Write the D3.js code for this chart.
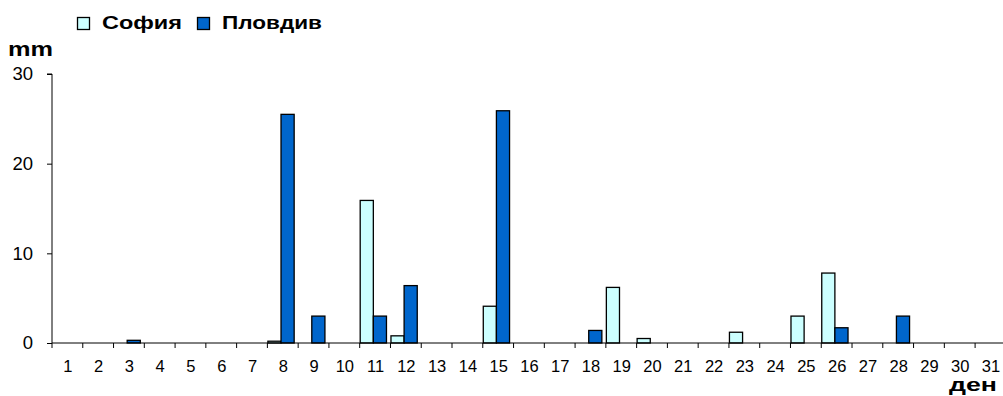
<!DOCTYPE html>
<html>
  <head>
    <meta charset="UTF-8" />
    <title>Валежи</title>
    <style>
      body { margin: 0; background: #fff; }
      svg { display: block; font-family: Arial, "Liberation Sans", sans-serif; }
    </style>
  </head>
  <body>
    <svg></svg>
    <script src="https://d3js.org/d3.v7.min.js"></script>
    <script>
      // days of the month
      var days = d3.range(1, 32).map(String);
      var seriesNames = ["София", "Пловдив"];
      var colours = ["#ccffff", "#0066cc"];
      // precipitation, mm (0 = no bar)
      var sofia = [0, 0, 0, 0, 0, 0, 0, 0.2, 0, 0, 15.9, 0.8, 0, 0, 4.1, 0, 0, 0, 6.2, 0.5, 0, 0, 1.2, 0, 3.0, 7.8, 0, 0, 0, 0, 0];
      var plovdiv = [0, 0, 0.3, 0, 0, 0, 0, 25.5, 3.0, 0, 3.0, 6.4, 0, 0, 25.9, 0, 0, 1.4, 0, 0, 0, 0, 0, 0, 0, 1.7, 0, 3.0, 0, 0, 0];
      var yTicks = [0, 10, 20, 30];

      let width = 1003, height = 396;
      let svg = d3.select("svg").attr("width", width).attr("height", height);

      // plot box (don't name it "top", that's window.top)
      var plotLeft = 52, plotTop = 74, plotBottom = 343;
      var step = 30.77;

      var x = d3.scaleBand().domain(days).range([plotLeft, plotLeft + step * days.length]).padding(0);
      var xs = d3.scaleBand().domain(seriesNames).range([0.5, x.bandwidth() * 0.87]).padding(0);
      var y = d3.scaleLinear().domain([0, 30]).range([plotBottom, plotTop]);

      var rows = days.map(function (d, i) {
        return { day: d, values: [sofia[i], plovdiv[i]] };
      });

      // bars
      var groups = svg.append("g").selectAll("g")
        .data(rows).enter().append("g")
        .attr("transform", function (d) { return "translate(" + x(d.day) + ",0)"; });
      groups.selectAll("rect")
        .data(function (d) {
          return d.values
            .map(function (v, i) { return { name: seriesNames[i], value: v, c: colours[i] }; })
            .filter(function (b) { return b.value > 0; });
        })
        .enter()
        .append("rect")
        .attr("x", function (d) { return xs(d.name); })
        .attr("width", xs.bandwidth())
        .attr("y", function (d) { return y(d.value); })
        .attr("height", function (d) { return y(0) - y(d.value); })
        .attr("fill", function (d) { return d.c; })
        .attr("stroke", "#000")
        .attr("stroke-width", 1.3);

      // y axis
      var yAxis = svg.append("g")
        .attr("transform", "translate(" + plotLeft + ",0)")
        .call(d3.axisLeft(y).tickValues(yTicks).tickSize(5).tickPadding(14));
      yAxis.selectAll("text").attr("font-size", 18.5).attr("fill", "#000")
        .attr("font-family", "Arial, 'Liberation Sans', sans-serif");
      yAxis.selectAll("line, path").attr("stroke", "#000");
      yAxis.select(".domain").attr("d", "M-5," + plotTop + "H0V" + plotBottom);

      // x axis: ticks on category boundaries, labels centred
      var xAxis = svg.append("g").attr("transform", "translate(0," + plotBottom + ")");
      xAxis.append("line").attr("x1", plotLeft).attr("x2", x.range()[1]).attr("stroke", "#000");
      xAxis.selectAll(".tk").data(days).enter().append("line")
        .attr("x1", function (d) { return x(d); })
        .attr("x2", function (d) { return x(d); })
        .attr("y1", 0).attr("y2", 5)
        .attr("stroke", "#000");
      xAxis.selectAll(".lbl").data(days).enter().append("text")
        .attr("x", function (d) { return x(d) + x.bandwidth() / 2 + 0.5; })
        .attr("y", 29)
        .attr("text-anchor", "middle")
        .attr("font-size", 16.5)
        .text(function (d) { return d; });

      // axis titles
      svg.append("text").attr("x", 8).attr("y", 56).attr("font-size", 21).attr("font-weight", "bold")
        .attr("textLength", 45).attr("lengthAdjust", "spacingAndGlyphs").text("mm");
      svg.append("text").attr("x", 949).attr("y", 391)
        .attr("font-size", 18).attr("font-weight", "bold")
        .attr("textLength", 48).attr("lengthAdjust", "spacingAndGlyphs").text("ден");

      // legend
      var legend = svg.append("g").attr("transform", "translate(0,29)");
      var lx = [77, 197], tx = [102, 222], tw = [80, 100];
      seriesNames.forEach(function (n, i) {
        legend.append("rect").attr("x", lx[i] + 0.5).attr("y", -11.5).attr("width", 12).attr("height", 12)
          .attr("fill", colours[i]).attr("stroke", "#000").attr("stroke-width", 1.3);
        legend.append("text").attr("x", tx[i]).attr("y", 0)
          .attr("font-size", 19).attr("font-weight", "bold")
          .attr("textLength", tw[i]).attr("lengthAdjust", "spacingAndGlyphs").text(n);
      });
    </script>
  </body>
</html>
